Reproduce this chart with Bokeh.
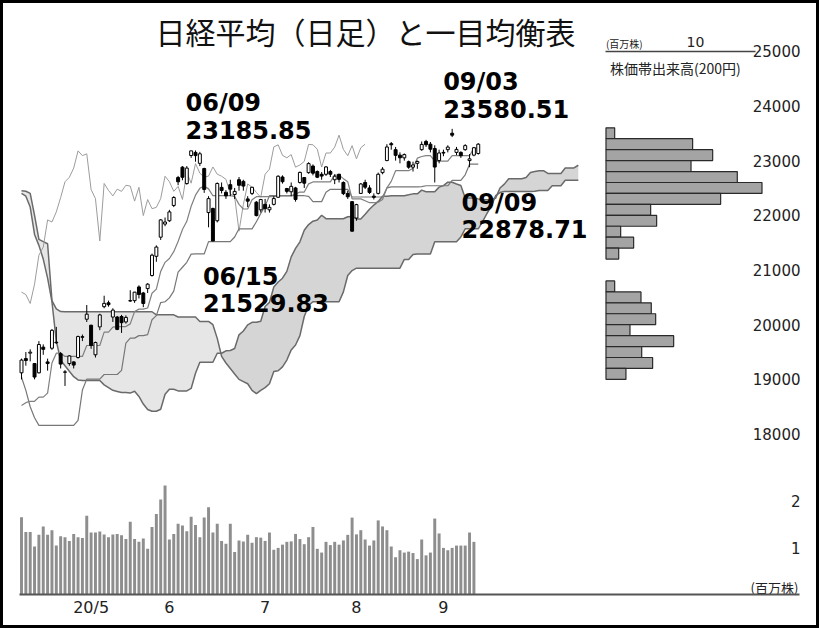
from bokeh.plotting import figure
from bokeh.models import Range1d, LinearAxis, FixedTicker, ColumnDataSource
from bokeh.core.properties import value
from bokeh.embed import file_html
from bokeh.resources import INLINE

title_text = "日経平均（日足）と一目均衡表"

# daily candles 2020/04/08 - 2020/09/11
opens = [19120, 19380, 19480, 19290, 19120, 19590, 19320, 19570, 19680, 19470,
         19130, 19290, 19320, 19400, 19780, 20100, 19990, 19450, 19960, 20330,
         20400, 20140, 20140, 20150, 20050, 20440, 20440, 20690, 20580, 20660,
         20900, 21250, 21600, 21840, 21900, 22180, 22690, 22880, 22580, 23093,
         23150, 22950, 22855, 22050, 22125, 21900, 22510, 22420, 22560, 22380,
         22650, 22620, 22300, 22400, 22240, 22100, 22200, 22100, 22200, 22330,
         22700, 22490, 22430, 22500, 22600, 22690, 22780, 22900, 22800, 22750,
         22750, 22800, 22650, 22750, 22600, 22400, 22250, 21950, 22400, 22600,
         22500, 22350, 22400, 22780, 23000, 23310, 23200, 23100, 23050, 22980,
         22880, 22950, 23200, 23350, 23300, 23220, 23000, 23150, 23200, 23500,
         23150, 23150, 23200, 23000, 23100, 23130]
highs = [19380, 19500, 19550, 19300, 19700, 19640, 19380, 19920, 19960, 19500,
         19170, 19440, 19330, 19800, 19820, 20360, 20000, 19690, 20200, 20530,
         20440, 20300, 20160, 20180, 20170, 20630, 20600, 20720, 20600, 20760,
         21300, 21450, 21930, 21960, 22100, 22350, 22720, 22900, 22900, 23180,
         23185.85, 23160, 22870, 22350, 22140, 22600, 22600, 22460, 22650, 22500,
         22700, 22650, 22350, 22520, 22260, 22300, 22300, 22200, 22350, 22730,
         22730, 22500, 22600, 22520, 22800, 22700, 22970, 22930, 22820, 22790,
         22900, 22830, 22750, 22760, 22620, 22450, 22260, 22210, 22590, 22650,
         22550, 22400, 22780, 22880, 23300, 23340, 23250, 23150, 23130, 23000,
         22980, 23000, 23350, 23380, 23340, 23280, 23200, 23200, 23280, 23580.51,
         23250, 23170, 23300, 23120, 23250, 23320]
lows = [19000, 19250, 19330, 19000, 19110, 19450, 19160, 19540, 19650, 19200,
        18880, 19250, 19200, 19380, 19700, 20050, 19560, 19400, 19900, 20300,
        20330, 20050, 19900, 19850, 20020, 20420, 20400, 20480, 20320, 20580,
        20880, 21150, 21550, 21800, 21880, 22150, 22550, 22640, 22560, 23050,
        22980, 22900, 22410, 21780, 21529.83, 21870, 22400, 22300, 22350, 22300,
        22450, 22450, 22150, 22370, 21980, 22050, 22050, 22050, 22180, 22320,
        22580, 22400, 22350, 22250, 22580, 22500, 22760, 22730, 22680, 22650,
        22720, 22700, 22570, 22600, 22370, 22300, 21700, 21900, 22390, 22480,
        22390, 22290, 22380, 22750, 22990, 23200, 23000, 22950, 23000, 22850,
        22800, 22850, 23180, 23250, 23150, 22600, 22950, 23080, 23150, 23430,
        23100, 23050, 23180, 22878.71, 23080, 23110]
closes = [19353, 19345, 19498, 19043, 19638, 19550, 19290, 19897, 19669, 19280,
          19137, 19429, 19262, 19783, 19771, 20193, 19619, 19674, 20179, 20390,
          20366, 20267, 19914, 20037, 20133, 20433, 20595, 20552, 20388, 20741,
          21271, 21419, 21916, 21877, 22062, 22325, 22613, 22695, 22863, 23178,
          23091, 23124, 22472, 22305, 21530, 22582, 22455, 22355, 22478, 22437,
          22549, 22534, 22259, 22512, 21995, 22288, 22121, 22145, 22306, 22714,
          22614, 22438, 22529, 22290, 22784, 22587, 22945, 22770, 22696, 22717,
          22884, 22751, 22715, 22657, 22397, 22339, 21710, 22195, 22573, 22514,
          22418, 22329, 22750, 22843, 23249, 23289, 23096, 23051, 23110, 22880,
          22920, 22985, 23296, 23290, 23208, 22882, 23139, 23138, 23247, 23465,
          23205, 23089, 23274, 23032, 23235, 23300]

# volume (million shares), 2020/04/08 - 2020/09/10
volumes = [1.66, 1.34, 1.34, 1.03, 1.28, 1.46, 1.28, 1.38, 1.05, 1.25,
           1.23, 1.15, 1.30, 1.23, 1.21, 1.69, 1.33, 1.33, 1.35, 1.29,
           1.23, 1.29, 1.30, 1.27, 1.19, 1.56, 1.19, 1.13, 1.20, 0.98,
           1.45, 1.73, 2.04, 2.34, 1.18, 1.30, 1.52, 1.48, 1.36, 1.67,
           1.49, 1.23, 1.65, 1.87, 1.33, 1.52, 1.15, 1.09, 1.52, 0.91,
           1.16, 1.14, 1.28, 1.11, 1.23, 1.22, 1.15, 1.33, 0.96, 1.00,
           1.07, 1.13, 1.14, 1.30, 1.19, 1.08, 1.23, 1.45, 0.98, 0.90,
           1.13, 1.06, 1.13, 1.07, 1.16, 1.28, 1.65, 1.29, 1.38, 1.18,
           1.05, 1.16, 1.59, 1.46, 1.38, 1.03, 0.80, 0.95, 0.90, 0.92,
           0.89, 0.76, 1.18, 0.84, 0.90, 1.63, 1.31, 1.00, 0.95, 1.00,
           1.05, 1.05, 1.05, 1.33, 1.13]

# conversion line (tenkan) and base line (kijun)
tenkan = [18525, 18575, 18600, 18600, 18675, 18675, 18750, 19300, 19480, 19480,
          19420, 19420, 19420, 19420, 19420, 19620, 19620, 19620, 19620, 19865,
          19865, 19955, 19965, 19965, 19965, 20015, 20240, 20285, 20285, 20305,
          20575, 20650, 20975, 21140, 21210, 21335, 21520, 21740, 21890, 22165,
          22368, 22493, 22533, 22483, 22358, 22358, 22358, 22358, 22358, 22345,
          22200, 22115, 22115, 22285, 22340, 22340, 22340, 22340, 22340, 22355,
          22355, 22355, 22355, 22390, 22425, 22425, 22575, 22610, 22610, 22610,
          22610, 22610, 22735, 22735, 22670, 22615, 22300, 22300, 22300, 22265,
          22230, 22230, 22240, 22290, 22500, 22620, 22815, 22815, 22815, 22815,
          22860, 23045, 23075, 23090, 23090, 22990, 22990, 22990, 22990, 23090,
          23090, 23090, 23090, 23090, 23230, 23230]
kijun = [19040, 18800, 18500, 18300, 18160, 18160, 18160, 18160, 18160, 18160,
         18160, 18160, 18160, 18250, 18805, 19005, 19005, 19005, 19005, 19090,
         19090, 19090, 19090, 19165, 19665, 19755, 19755, 19800, 19800, 19820,
         20090, 20165, 20405, 20420, 20490, 20615, 20960, 21050, 21140, 21290,
         21293, 21293, 21293, 21518, 21518, 21518, 21518, 21518, 21518, 21603,
         21753, 21753, 21753, 21753, 21883, 22033, 22168, 22358, 22358, 22358,
         22358, 22358, 22358, 22358, 22358, 22358, 22345, 22250, 22250, 22250,
         22420, 22475, 22475, 22475, 22475, 22475, 22335, 22335, 22335, 22335,
         22335, 22335, 22335, 22335, 22500, 22520, 22520, 22520, 22520, 22520,
         22520, 22520, 22525, 22540, 22540, 22540, 22540, 22540, 22540, 22640,
         22640, 22640, 22740, 22935, 22935, 22935]

# leading spans (already placed 26 days ahead)
span_a = [22400, 22350, 22150, 21650, 21450, 21200, 20850, 20420, 19700, 19350,
          19250, 19150, 19050, 18990, 18980, 18980, 18980, 18980, 18980, 18900,
          18850, 18800, 18780, 18760, 18760, 18750, 18783, 18688, 18550, 18450,
          18418, 18418, 18455, 18730, 18820, 18820, 18790, 18790, 18790, 18835,
          19113, 19313, 19313, 19313, 19313, 19478, 19478, 19523, 19528, 19565,
          19815, 19885, 19998, 20043, 20043, 20063, 20333, 20408, 20690, 20780,
          20850, 20975, 21240, 21395, 21515, 21728, 21831, 21893, 21913, 22001,
          21938, 21938, 21938, 21938, 21938, 21974, 21977, 21934, 21934, 22019,
          22112, 22187, 22254, 22349, 22349, 22357, 22357, 22357, 22357, 22374,
          22392, 22392, 22460, 22430, 22430, 22430, 22515, 22543, 22605, 22605,
          22573, 22545, 22318, 22318, 22318, 22300, 22283, 22283, 22288, 22313,
          22500, 22570, 22668, 22668, 22668, 22668, 22690, 22783, 22800, 22815,
          22815, 22765, 22765, 22765, 22765, 22865, 22865, 22865, 22915]
span_b = [22450, 22440, 22400, 22000, 21560, 21520, 21480, 20440, 20290, 20240,
          20237, 20237, 20237, 20237, 20237, 20237, 20237, 20237, 20237, 20237,
          20237, 20237, 20237, 20237, 20237, 20237, 20237, 20237, 20237, 20237,
          20237, 20180, 20180, 20180, 20180, 20180, 20140, 20140, 20140, 20140,
          20140, 20060, 20060, 20060, 20000, 19750, 19420, 19300, 19200, 19100,
          19000, 18960, 18920, 18800, 18740, 18800, 18850, 18920, 19144, 19159,
          19229, 19354, 19539, 19629, 19800, 20150, 20350, 20420, 20420, 20420,
          20420, 20420, 20420, 20420, 20600, 20900, 20990, 21033, 21033, 21033,
          21033, 21033, 21033, 21033, 21033, 21033, 21033, 21033, 21193, 21193,
          21283, 21293, 21293, 21293, 21293, 21518, 21518, 21518, 21518, 21518,
          21518, 21603, 21753, 21753, 21753, 21753, 21883, 22033, 22168, 22358,
          22415, 22435, 22435, 22435, 22435, 22435, 22435, 22435, 22440, 22455,
          22455, 22455, 22540, 22540, 22540, 22640, 22640, 22640, 22640]

# volume by price band (200 yen bands), million shares
hist_prices = [23500, 23300, 23100, 22900, 22700, 22500, 22300, 22100, 21900, 21700,
               21500, 21300, 20700, 20500, 20300, 20100, 19900, 19700, 19500, 19300, 19100]
hist_volumes = [0.97, 9.68, 11.92, 9.50, 14.67, 17.43, 12.81, 4.99, 5.66, 1.64,
                3.09, 1.42, 0.97, 3.91, 5.06, 5.55, 2.68, 7.56, 3.99, 5.21, 2.23]

price_ticks = [18000, 19000, 20000, 21000, 22000, 23000, 24000, 25000]
volume_ticks = [1, 2]
month_pos = [16, 34, 56, 77, 97]
month_labels = ["20/5", "6", "7", "8", "9"]

annot_idx = [40, 44, 99, 103]
annot_dates = ["06/09", "06/15", "09/03", "09/09"]
annot_values = [23185.85, 21529.83, 23580.51, 22878.71]

# ---------------------------------------------------------------
n = len(closes)
idx = list(range(n))

p = figure(width=819, height=628, output_backend="svg", toolbar_location=None,
           title=None, x_axis_location=None, y_axis_location=None,
           x_range=Range1d(-4.828, 183.448), y_range=Range1d(14446.1, 25926.9),
           min_border=0, tools="")
p.extra_y_ranges = {"vol": Range1d(-0.7296, 12.747)}
p.extra_x_ranges = {"hist": Range1d(-67.65, 23.855)}
p.xgrid.visible = False
p.ygrid.visible = False
p.outline_line_color = "black"
p.outline_line_width = 5
p.background_fill_color = "white"
p.border_fill_color = "white"

# cloud
cidx = list(range(len(span_a)))
cloud_top = [max(a, b) for a, b in zip(span_a, span_b)]
p.varea(x=cidx, y1=span_a, y2=cloud_top, fill_color="#e6e6e6")
p.varea(x=cidx, y1=span_b, y2=cloud_top, fill_color="#d5d5d5")
p.line(cidx, span_a, line_color="#6a6a6a", line_width=1.5)
p.line(cidx, span_b, line_color="#6a6a6a", line_width=1.5)

# lagging span
lag = closes[26:]
p.line(list(range(len(lag))), lag, line_color="#9c9c9c", line_width=1)

# base / conversion lines
p.line(idx, kijun, line_color="#777777", line_width=1.2)
p.line(idx, tenkan, line_color="#808080", line_width=1.2)

# candles
src = ColumnDataSource(dict(
    x=idx, o=opens, h=highs, l=lows, c=closes,
    top=[max(o, c) for o, c in zip(opens, closes)],
    bot=[min(o, c) for o, c in zip(opens, closes)],
    fill=["white" if c >= o else "black" for o, c in zip(opens, closes)],
))
p.segment(x0="x", y0="l", x1="x", y1="h", source=src, line_color="black", line_width=1)
p.vbar(x="x", top="top", bottom="bot", width=0.68, source=src,
       fill_color="fill", line_color="black", line_width=1)

# volume bars
p.vbar(x=list(range(len(volumes))), top=volumes, bottom=0, width=0.68,
       y_range_name="vol", fill_color="#8e8e8e", line_color=None)

# volume-by-price histogram
p.hbar(y=hist_prices, height=200, left=0, right=hist_volumes, x_range_name="hist",
       fill_color="#a4a4a4", line_color="#2a2a2a", line_width=1.2)

num_font = "DejaVu Sans"
cjk_font = "Noto Sans CJK JP"

# price axis (right side labels)
price_axis = LinearAxis(ticker=FixedTicker(ticks=price_ticks), fixed_location=179.54,
                        axis_line_color=None, major_tick_line_color=None,
                        minor_tick_line_color=None, major_tick_out=0, major_tick_in=0,
                        major_label_standoff=2, major_label_text_font=num_font,
                        major_label_text_font_size="15px", major_label_text_color="#222222")
p.add_layout(price_axis, "left")

vol_axis = LinearAxis(y_range_name="vol", ticker=FixedTicker(ticks=volume_ticks),
                      fixed_location=179.54, axis_line_color=None,
                      major_tick_line_color=None, minor_tick_line_color=None,
                      major_tick_out=0, major_tick_in=0, major_label_standoff=2,
                      major_label_text_font=num_font, major_label_text_font_size="15px",
                      major_label_text_color="#222222")
p.add_layout(vol_axis, "left")

date_axis = LinearAxis(y_range_name="vol", ticker=FixedTicker(ticks=month_pos),
                       fixed_location=0, bounds=(-0.46, 178.85),
                       major_label_overrides={k: v for k, v in zip(month_pos, month_labels)},
                       axis_line_color="#555555", axis_line_width=2,
                       major_tick_line_color=None, minor_tick_line_color=None,
                       major_tick_out=0, major_tick_in=0, major_label_standoff=3,
                       major_label_text_font=num_font, major_label_text_font_size="16px",
                       major_label_text_color="#222222")
p.add_layout(date_axis, "below")

hist_axis = LinearAxis(x_range_name="hist", ticker=FixedTicker(ticks=[10]),
                       fixed_location=25000, bounds=(0, 16.76),
                       axis_line_color="#444444", axis_line_width=1.5,
                       major_tick_line_color=None, minor_tick_line_color=None,
                       major_tick_out=0, major_tick_in=0, major_label_standoff=4,
                       major_label_text_font=num_font, major_label_text_font_size="14px",
                       major_label_text_color="#222222")
p.add_layout(hist_axis, "above")

# texts
p.text(x=[79.08], y=[25378], text=[title_text], text_font=value(cjk_font),
       text_font_size="30px", text_align="center", text_baseline="middle",
       text_color="#111111")
p.text(x=[0], y=[25141], text=["(百万株)"], x_range_name="hist",
       text_font=value(cjk_font), text_font_size="10px", text_align="left",
       text_baseline="middle", text_color="#222222")
p.text(x=[0.45], y=[24702], text=["株価帯出来高(200円)"], x_range_name="hist",
       text_font=value(cjk_font), text_font_size="14px", text_align="left",
       text_baseline="middle", text_color="#222222")
p.text(x=[178.6], y=[0.15], text=["(百万株)"], y_range_name="vol",
       text_font=value(cjk_font), text_font_size="13px", text_align="right",
       text_baseline="middle", text_color="#222222")

above = [True, False, True, False]
ann = ColumnDataSource(dict(
    x=annot_idx, y=annot_values, d=annot_dates,
    v=["%.2f" % v for v in annot_values],
    xo=[-10, -10, -9, -8],
    yod=[-47 if a else 35.5 for a in above],
    yov=[-20 if a else 61.5 for a in above],
))
p.text(x="x", y="y", text="d", x_offset="xo", y_offset="yod", source=ann,
       text_font=value(num_font), text_font_style="bold", text_font_size="24px",
       text_align="left", text_baseline="middle", text_color="black")
p.text(x="x", y="y", text="v", x_offset="xo", y_offset="yov", source=ann,
       text_font=value(num_font), text_font_style="bold", text_font_size="24px",
       text_align="left", text_baseline="middle", text_color="black")

open("out.html", "w").write(file_html(p, INLINE))
